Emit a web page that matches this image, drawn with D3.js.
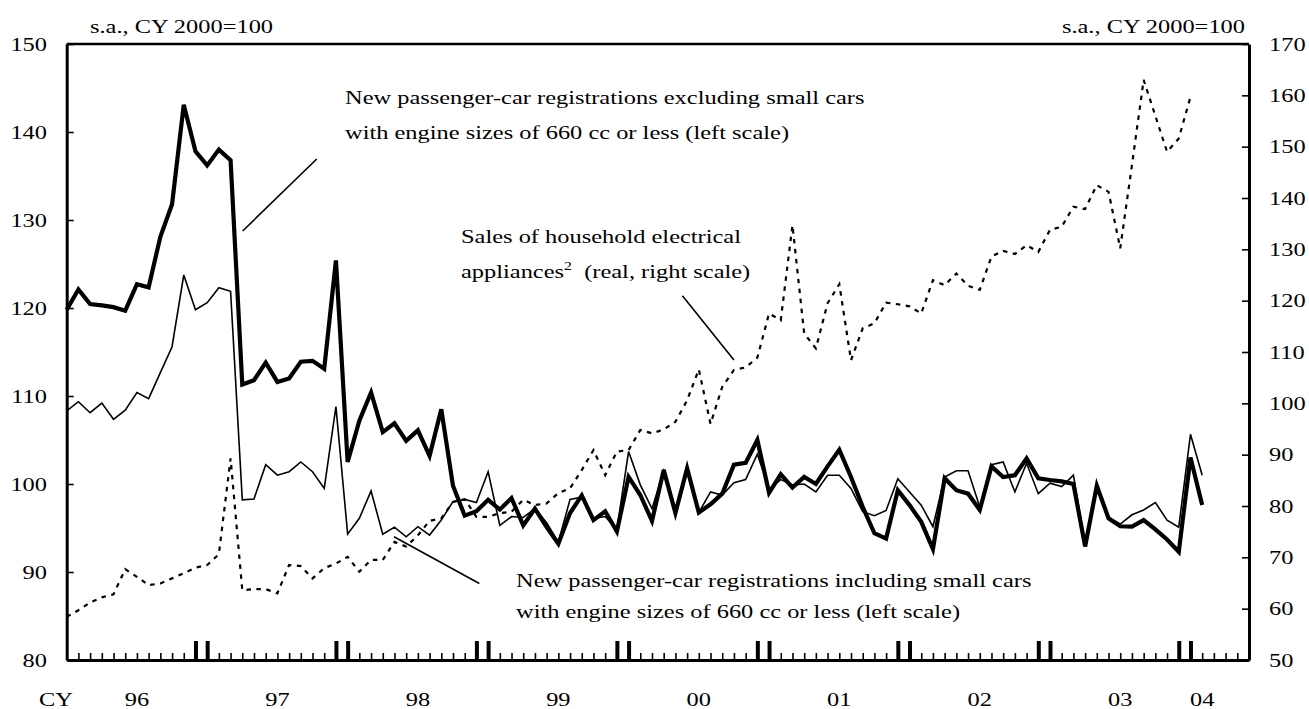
<!DOCTYPE html>
<html>
<head>
<meta charset="utf-8">
<script src="https://cdnjs.cloudflare.com/ajax/libs/d3/7.8.5/d3.min.js"></script>
<style>
body { margin: 0; background: #fff; }
text { font-family: "Liberation Serif", "Times New Roman", serif; fill: #000; }
</style>
</head>
<body>
<div id="chart"></div>
<script>
// monthly series, index 0 = Jan 1996
var carsExcl = [119.8,122.1,120.45,120.3,120.1,119.7,122.7,122.35,128.1,131.8,143.1,137.8,
  136.2,138.0,136.8,111.3,111.8,113.8,111.6,112.0,113.9,114.0,113.1,125.4,
  102.5,107.2,110.4,105.9,106.9,104.9,106.1,103.2,108.5,99.8,96.4,96.9,
  98.2,97.1,98.4,95.3,97.2,95.1,93.2,96.7,98.7,95.9,96.9,94.6,
  100.8,98.75,95.8,101.6,96.7,101.8,96.75,97.7,98.9,102.2,102.4,105.0,
  99.0,101.1,99.6,100.8,100.0,102.0,103.9,100.8,97.4,94.4,93.8,99.3,
  97.6,95.7,92.6,100.65,99.3,98.9,97.05,102.0,100.8,101.0,102.9,100.65,
  100.45,100.3,100.0,92.9,99.8,96.1,95.2,95.15,95.9,94.85,93.7,92.3,
  103.0,97.6];
var carsIncl = [108.3,109.35,108.1,109.2,107.35,108.4,110.4,109.7,112.65,115.6,123.75,119.8,
  120.6,122.3,121.9,98.2,98.3,102.2,101.0,101.4,102.5,101.4,99.5,108.8,
  94.3,96.1,99.2,94.3,95.1,94.0,95.15,94.2,95.9,98.0,98.25,97.9,
  101.4,95.3,96.3,96.2,97.2,95.6,93.4,98.25,98.5,96.1,96.3,94.8,
  103.7,99.9,97.2,101.5,97.0,101.5,96.75,99.1,98.75,100.15,100.5,103.4,
  99.4,100.5,99.9,100.0,99.1,101.0,101.0,99.5,96.85,96.4,97.0,100.6,
  99.1,97.6,95.15,100.8,101.5,101.5,97.4,102.2,102.5,99.1,102.35,98.9,
  100.1,99.7,101.0,93.2,99.8,96.2,95.45,96.5,97.05,97.9,95.9,95.1,
  105.65,101.0];
var appliances = [58.4,59.7,61.2,62.2,62.8,67.7,66.2,64.6,64.9,65.9,66.9,68.0,
  68.5,70.6,89.3,63.6,63.8,63.8,63.0,68.5,68.3,65.9,67.9,68.8,
  70.1,67.2,69.5,69.5,73.0,72.1,74.3,77.1,77.6,80.8,81.3,77.9,
  77.9,78.6,78.9,81.2,80.2,80.5,82.5,83.45,87.0,90.9,86.0,90.6,
  90.9,94.8,94.15,94.9,96.4,100.6,106.6,96.0,103.2,106.5,107.0,108.9,
  117.5,116.2,134.7,113.6,110.7,119.5,123.2,108.4,114.6,115.6,119.6,119.3,
  118.9,117.5,124.0,123.0,125.3,122.9,122.1,128.6,129.7,129.1,130.8,129.5,
  133.8,134.4,138.3,137.85,142.5,141.2,130.2,146.4,163.0,156.0,149.0,151.6,
  159.7];

var leftTicks = [80, 90, 100, 110, 120, 130, 140, 150];
var rightTicks = [50, 60, 70, 80, 90, 100, 110, 120, 130, 140, 150, 160, 170];
var yearLabels = ["96", "97", "98", "99", "00", "01", "02", "03", "04"];
var yearLabelMonths = [6, 18, 30, 42, 54, 66, 78, 90, 97];

var FS = 18.5, SX = 1.32; // serif text, drawn a bit wide like the source

var svg = d3.select("#chart").append("svg")
  .attr("width", 1309).attr("height", 709);

var x = d3.scaleLinear().domain([0, 101]).range([66.7, 1249]);
var yL = d3.scaleLinear().domain([80, 150]).range([660, 44]);
var yR = d3.scaleLinear().domain([50, 170]).range([660, 44]);

function label(px, py, str, anchor) {
  return svg.append("text")
    .attr("transform", "translate(" + px + "," + py + ") scale(" + SX + ",1)")
    .attr("text-anchor", anchor || "start")
    .style("font-size", FS + "px")
    .text(str);
}

// frame top
svg.append("line")
  .attr("x1", x(0)).attr("x2", x(101))
  .attr("y1", yL(150)).attr("y2", yL(150))
  .attr("stroke", "#000").attr("stroke-width", 2.5);

// left axis, ticks inward
var axL = svg.append("g").attr("transform", "translate(" + x(0) + ",0)")
  .call(d3.axisLeft(yL).tickValues(leftTicks).tickSizeInner(-7).tickSizeOuter(0).tickFormat(""));
// right axis, ticks inward
var axR = svg.append("g").attr("transform", "translate(" + x(101) + ",0)")
  .call(d3.axisRight(yR).tickValues(rightTicks).tickSizeInner(-7).tickSizeOuter(0).tickFormat(""));
// bottom axis, monthly ticks
var axB = svg.append("g").attr("transform", "translate(0," + yL(80) + ")")
  .call(d3.axisBottom(x).tickValues(d3.range(1, 101)).tickSizeInner(-7).tickSizeOuter(0).tickFormat(""));

[axL, axR, axB].forEach(function(a) {
  a.select(".domain").attr("stroke-width", 3);
  a.selectAll(".tick line").attr("stroke-width", 1.6);
});
axB.selectAll(".tick line")
  .filter(function(d) { return d % 12 === 11 || d % 12 === 0; })
  .attr("y2", -19).attr("stroke-width", 4);

leftTicks.forEach(function(v) { label(47, yL(v) + 6.5, v, "end"); });
rightTicks.forEach(function(v) { label(1269, yR(v) + 6.5, v, "start"); });
yearLabels.forEach(function(s, k) { label(x(yearLabelMonths[k]), 706, s, "middle"); });
label(56, 706, "CY", "middle");
label(90, 33, "s.a., CY 2000=100", "start");
label(1245, 33, "s.a., CY 2000=100", "end");

// series
var lineL = d3.line().x(function(d, i) { return x(i); }).y(function(d) { return yL(d); });
var lineR = d3.line().x(function(d, i) { return x(i); }).y(function(d) { return yR(d); });

svg.append("path").datum(appliances).attr("d", lineR)
  .attr("fill", "none").attr("stroke", "#000").attr("stroke-width", 2.2)
  .attr("stroke-dasharray", "4.5,5.5");
svg.append("path").datum(carsIncl).attr("d", lineL)
  .attr("fill", "none").attr("stroke", "#000").attr("stroke-width", 1.6)
  .attr("stroke-linejoin", "miter");
svg.append("path").datum(carsExcl).attr("d", lineL)
  .attr("fill", "none").attr("stroke", "#000").attr("stroke-width", 4.2)
  .attr("stroke-linejoin", "miter");

// annotation leader lines (data units)
var leaders = [
  {scale: yL, a: [15.03, 128.75], b: [21.36, 136.93]},
  {scale: yR, a: [52.6, 120.96], b: [57.0, 108.44]},
  {scale: yL, a: [27.96, 94.0], b: [35.25, 88.7]}
];
leaders.forEach(function(l) {
  svg.append("line")
    .attr("x1", x(l.a[0])).attr("y1", l.scale(l.a[1]))
    .attr("x2", x(l.b[0])).attr("y2", l.scale(l.b[1]))
    .attr("stroke", "#000").attr("stroke-width", 1.6);
});

label(345, 104, "New passenger-car registrations excluding small cars");
label(345, 139, "with engine sizes of 660 cc or less (left scale)");
label(461, 243, "Sales of household electrical");
var t2 = label(461, 278, "appliances");
t2.append("tspan").attr("dy", -8).style("font-size", "12px").text("2");
t2.append("tspan").attr("dy", 8).attr("xml:space", "preserve").text("  (real, right scale)");
t2.style("white-space", "pre");
label(516, 587, "New passenger-car registrations including small cars");
label(516, 618, "with engine sizes of 660 cc or less (left scale)");
</script>
</body>
</html>
